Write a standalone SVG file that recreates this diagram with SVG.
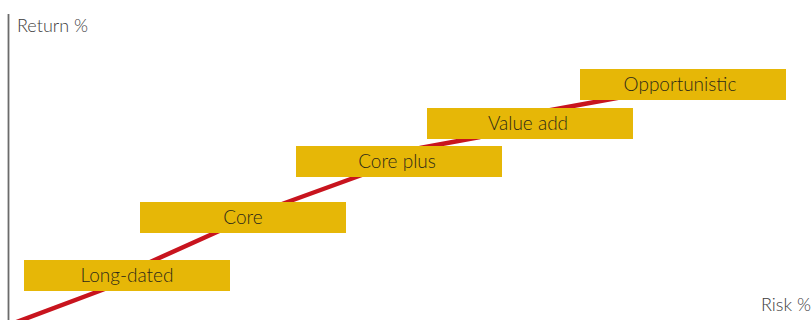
<svg xmlns="http://www.w3.org/2000/svg" width="812" height="320" viewBox="0 0 812 320">
<style>
.box{fill:#E6B707}
.lbl{font-family:Lato,"Liberation Sans",sans-serif;font-size:19px;font-weight:300;fill:#2e2a18;text-anchor:middle}
.ax{font-family:Lato,"Liberation Sans",sans-serif;font-size:18px;font-weight:300;fill:#3c3c3c}
</style>
<rect width="812" height="320" fill="#ffffff"/>
<g id="connectors">
<line x1="8.5" y1="14" x2="8.5" y2="320" stroke="#6b6b6b" stroke-width="1.8"/>
<polyline fill="none" stroke="#C8141E" stroke-width="4.5" stroke-linejoin="round" points="14,323 110,287 148,263 218,231.5 282,204 370,172 420,148 480,137 540,112 650,92"/>
</g>
<g id="axis-return"><text class="ax" x="17" y="31.5">Return %</text></g>
<g id="axis-risk"><text class="ax" x="811" y="310.5" text-anchor="end">Risk %</text></g>
<g id="long-dated"><rect class="box" x="24" y="260" width="206" height="31"/><text class="lbl" x="127" y="282">Long-dated</text></g>
<g id="core"><rect class="box" x="140" y="202" width="206" height="31"/><text class="lbl" x="243" y="224">Core</text></g>
<g id="core-plus"><rect class="box" x="296" y="146" width="206" height="31"/><text class="lbl" x="397" y="168">Core plus</text></g>
<g id="value-add"><rect class="box" x="427" y="108" width="206" height="31"/><text class="lbl" x="528" y="130">Value add</text></g>
<g id="opportunistic"><rect class="box" x="580" y="69" width="206" height="31"/><text class="lbl" x="680" y="91">Opportunistic</text></g>
</svg>
